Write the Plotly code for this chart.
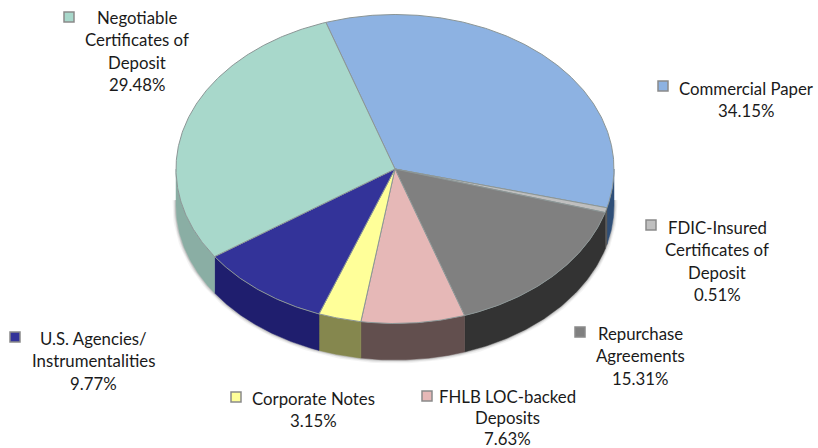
import numpy as np
import plotly.graph_objects as go

# Data (clockwise from the top-left slice boundary)
categories = ["Commercial Paper", "FDIC-Insured Certificates of Deposit", "Repurchase Agreements",
              "FHLB LOC-backed Deposits", "Corporate Notes", "U.S. Agencies/ Instrumentalities",
              "Negotiable Certificates of Deposit"]
values = [34.15, 0.51, 15.31, 7.63, 3.15, 9.77, 29.48]
label_lines = [["Commercial Paper"], ["FDIC-Insured", "Certificates of", "Deposit"],
               ["Repurchase", "Agreements"], ["FHLB LOC-backed", "Deposits"], ["Corporate Notes"],
               ["U.S. Agencies/", "Instrumentalities"], ["Negotiable", "Certificates of", "Deposit"]]
top_colors = ["#8DB2E2", "#BFBFBF", "#808080", "#E6B8B7", "#FFFF99", "#333399", "#A8D8CB"]
side_colors = ["#2F4F78", "#5A5A5A", "#333333", "#624F4E", "#85874E", "#1F1E6E", "#8AAEA4"]

# Layout constants
W, H = 818, 448
CX, CY, RX, RY, DEPTH = 395, 169, 219, 154.5, 36.5
START = 108.4
label_centers = [(746, 88), (717, 227), (640, 333), (507, 396), (313, 398), (93, 338), (137, 17)]
line_heights = [22.5, 22.5, 22.5, 21, 22.5, 22.5, 22.5]
swatches = [(663, 86), (651, 225), (580, 332), (427, 396), (236, 397), (15, 337), (69, 17)]

def ell(t, dy=0):
    r = np.radians(t)
    return CX + RX * np.cos(r), CY - RY * np.sin(r) + dy

fig = go.Figure()

# soft shadow below the rim
ts = np.linspace(178, 362, 200)
for w, op in [(7, 0.06), (4.5, 0.10), (2.5, 0.18)]:
    x, y = ell(ts, DEPTH)
    fig.add_trace(go.Scatter(x=x, y=y, mode="lines", line=dict(color="#444444", width=w),
                             opacity=op, hoverinfo="skip", showlegend=False))

ends = START - np.cumsum(values) * 3.6
starts = np.concatenate([[START], ends[:-1]])

# rim, front half only
for a, b, col in zip(starts, ends, side_colors):
    for shift in (0, -360, 360):
        lo, hi = max(b + shift, -180), min(a + shift, 0)
        if hi > lo:
            t = np.linspace(hi, lo, 80)
            xt, yt = ell(t)
            xb, yb = ell(t[::-1], DEPTH)
            fig.add_trace(go.Scatter(x=np.r_[xt, xb, xt[0]], y=np.r_[yt, yb, yt[0]], mode="lines",
                                     fill="toself", fillcolor=col, line=dict(color=col, width=0.5),
                                     hoverinfo="skip", showlegend=False))

# top surface
for name, a, b, col in zip(categories, starts, ends, top_colors):
    t = np.linspace(a, b, max(int((a - b) * 2), 4))
    xe, ye = ell(t)
    fig.add_trace(go.Scatter(x=np.r_[CX, xe, CX], y=np.r_[CY, ye, CY], mode="lines", name=name,
                             fill="toself", fillcolor=col, line=dict(color="#8C9696", width=1),
                             showlegend=False))

# swatches
fig.add_trace(go.Scatter(x=[s[0] for s in swatches], y=[s[1] for s in swatches], mode="markers",
                         marker=dict(symbol="square", size=10, color=top_colors,
                                     line=dict(color="#8A8A8A", width=1.5)),
                         hoverinfo="skip", showlegend=False))

# labels, one annotation per line
for lines, v, (lx, ly), lh in zip(label_lines, values, label_centers, line_heights):
    for i, s in enumerate(lines + [f"{v:.2f}%"]):
        fig.add_annotation(x=lx, y=ly + i * lh, text=s, showarrow=False, xanchor="center",
                           yanchor="middle", font=dict(family="Lato", size=16.8, color="#1A1A1A"))

fig.update_layout(width=W, height=H, margin=dict(l=0, r=0, t=0, b=0),
                  paper_bgcolor="white", plot_bgcolor="white",
                  xaxis=dict(range=[0, W], visible=False, fixedrange=True),
                  yaxis=dict(range=[H, 0], visible=False, fixedrange=True))
fig.write_html("out.html", post_script="document.body.style.margin='0';",
               config=dict(displayModeBar=False))
